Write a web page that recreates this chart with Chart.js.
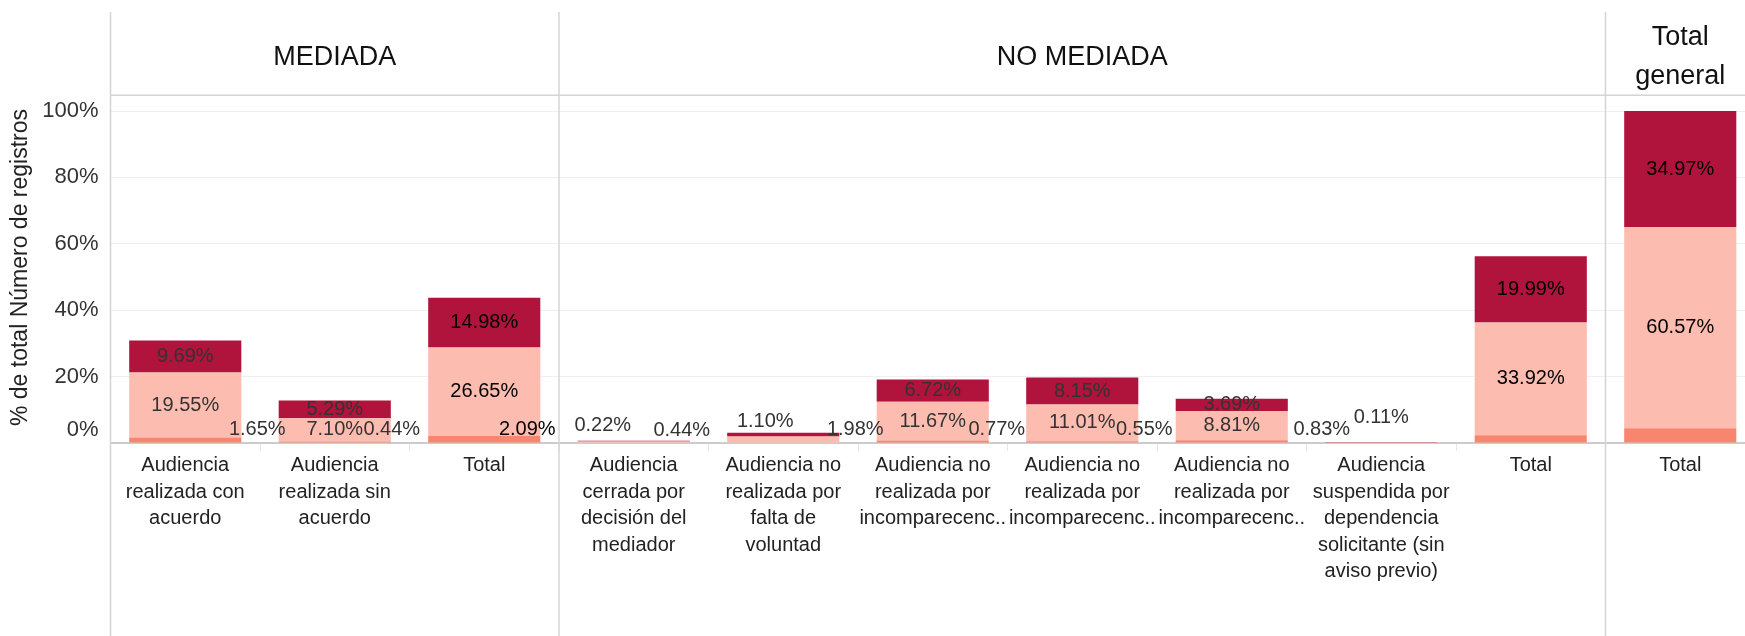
<!DOCTYPE html>
<html>
<head>
<meta charset="utf-8">
<script src="https://cdn.jsdelivr.net/npm/chart.js@4.4.1/dist/chart.umd.min.js"></script>
<style>
  html, body { margin: 0; padding: 0; background: #fff; overflow: hidden; }
  #wrap { width: 1755px; height: 636px; }
</style>
</head>
<body>
<div id="wrap"><canvas id="c" width="1755" height="636"></canvas></div>
<script>
// ---- data ----
const categories = [
  ['Audiencia', 'realizada con', 'acuerdo'],
  ['Audiencia', 'realizada sin', 'acuerdo'],
  ['Total'],
  ['Audiencia', 'cerrada por', 'decisión del', 'mediador'],
  ['Audiencia no', 'realizada por', 'falta de', 'voluntad'],
  ['Audiencia no', 'realizada por', 'incomparecenc..'],
  ['Audiencia no', 'realizada por', 'incomparecenc..'],
  ['Audiencia no', 'realizada por', 'incomparecenc..'],
  ['Audiencia', 'suspendida por', 'dependencia', 'solicitante (sin', 'aviso previo)'],
  ['Total'],
  ['Total']
];
const groupNames = [['MEDIADA'], ['NO MEDIADA'], ['Total', 'general']];
const groupSizes = [3, 7, 1];
const seriesBottom = [1.65, 0.44, 2.09, 0, 0, 0.77, 0.55, 0.83, 0.22, 2.37, 4.46];
const seriesMiddle = [19.55, 7.10, 26.65, 0.44, 1.98, 11.67, 11.01, 8.81, 0, 33.92, 60.57];
const seriesTop = [9.69, 5.29, 14.98, 0.22, 1.10, 6.72, 8.15, 3.69, 0.11, 19.99, 34.97];
const yTickValues = [0, 20, 40, 60, 80, 100];
const yAxisTitle = '% de total Número de registros';
const totalIndexes = [2, 9, 10];

// ---- styling ----
const FONT = "'Liberation Sans', Arial, sans-serif";
const colors = ['#F8866E', '#FDBCB0', '#B0133B'];
// label nudges (px) for labels Tableau moved to avoid collisions: key "dataset,index"
const labelNudge = {
  '0,0': [72, 0], '0,1': [57, 0], '0,2': [43, 0], '0,5': [64, 0], '0,6': [62, 0], '0,7': [90, 0],
  '1,3': [48, 1], '1,4': [72, 0],
  '2,3': [-31, -4], '2,4': [-18, -8], '2,8': [0, -12]
};
const hiddenLabels = ['0,8', '0,9', '0,10'];

const decorPlugin = {
  id: 'decor',
  afterDraw(chart) {
    const ctx = chart.ctx;
    const xs = chart.scales.x, ys = chart.scales.y;
    const area = chart.chartArea;
    ctx.save();
    // pane boundaries
    const bounds = [area.left];
    let acc = 0;
    groupSizes.forEach((n) => {
      acc += n;
      if (acc < categories.length) {
        bounds.push((xs.getPixelForValue(acc - 1) + xs.getPixelForValue(acc)) / 2);
      } else {
        bounds.push(area.right);
      }
    });
    ctx.strokeStyle = '#d4d4d4';
    ctx.lineWidth = 1.5;
    for (let i = 0; i < bounds.length - 1; i++) {
      ctx.beginPath();
      ctx.moveTo(bounds[i], 12);
      ctx.lineTo(bounds[i], chart.height);
      ctx.stroke();
    }
    // header divider
    ctx.beginPath();
    ctx.moveTo(area.left, 95.3);
    ctx.lineTo(area.right, 95.3);
    ctx.stroke();
    // header texts
    ctx.fillStyle = '#111';
    ctx.font = '27px ' + FONT;
    ctx.textAlign = 'center';
    ctx.textBaseline = 'middle';
    groupNames.forEach((lines, gi) => {
      const cx = (bounds[gi] + bounds[gi + 1]) / 2;
      if (lines.length === 1) {
        ctx.fillText(lines[0], cx, 57.5);
      } else {
        lines.forEach((t, li) => ctx.fillText(t, cx, 38 + li * 38.3));
      }
    });
    // y axis title
    ctx.save();
    ctx.translate(21, 267.5);
    ctx.rotate(-Math.PI / 2);
    ctx.font = '23px ' + FONT;
    ctx.fillStyle = '#222';
    ctx.fillText(yAxisTitle, 0, 0);
    ctx.restore();
    // 0% label lifted inside the pane
    ctx.font = '22px ' + FONT;
    ctx.fillStyle = '#333';
    ctx.textAlign = 'right';
    ctx.fillText(yTickValues[0] + '%', area.left - 12, ys.getPixelForValue(yTickValues[0]) - 13);
    ctx.restore();
  },
  afterDatasetsDraw(chart) {
    const ctx = chart.ctx;
    const area = chart.chartArea;
    ctx.save();
    ctx.font = '20px ' + FONT;
    ctx.textAlign = 'center';
    ctx.textBaseline = 'middle';
    chart.data.datasets.forEach((ds, di) => {
      const meta = chart.getDatasetMeta(di);
      meta.data.forEach((el, i) => {
        const v = ds.data[i];
        const key = di + ',' + i;
        if (!v || hiddenLabels.includes(key)) return;
        let x = el.x;
        let y = Math.min((el.y + el.base) / 2, area.bottom - 14);
        const n = labelNudge[key];
        if (n) { x += n[0]; y += n[1]; }
        ctx.fillStyle = totalIndexes.includes(i) ? '#000' : '#333';
        ctx.fillText(v.toFixed(2) + '%', x, y);
      });
    });
    ctx.restore();
  }
};

new Chart(document.getElementById('c'), {
  type: 'bar',
  data: {
    labels: categories,
    datasets: [
      { label: 'bottom', data: seriesBottom, backgroundColor: colors[0] },
      { label: 'middle', data: seriesMiddle, backgroundColor: colors[1] },
      { label: 'top', data: seriesTop, backgroundColor: colors[2] }
    ]
  },
  options: {
    responsive: false,
    animation: false,
    devicePixelRatio: 1,
    layout: { padding: { top: 111, left: 0, right: 0, bottom: 0 } },
    datasets: { bar: { barPercentage: 0.75, categoryPercentage: 1, borderWidth: 0 } },
    plugins: { legend: { display: false }, tooltip: { enabled: false } },
    scales: {
      x: {
        stacked: true,
        offset: true,
        grid: { display: true, drawOnChartArea: false, drawTicks: true, tickLength: 8, color: '#e6e6e6', offset: true },
        border: { display: true, color: '#cccccc', width: 2 },
        ticks: {
          autoSkip: false, maxRotation: 0, minRotation: 0, padding: 1,
          color: '#222',
          font: { family: FONT, size: 20, lineHeight: 1.333 }
        },
        afterFit(scale) { scale.height = 193; }
      },
      y: {
        stacked: true,
        min: 0, max: 100,
        afterBuildTicks(scale) { scale.ticks = yTickValues.map(v => ({ value: v })); },
        grid: {
          drawTicks: false,
          color: (c) => (c.tick && c.tick.value === 0) ? 'rgba(0,0,0,0)' : '#efefef',
          lineWidth: 1
        },
        border: { display: false },
        ticks: {
          padding: 12,
          color: '#333',
          font: { family: FONT, size: 22 },
          callback: (v) => v === 0 ? '' : v + '%'
        },
        afterFit(scale) { scale.width = 110.5; }
      }
    }
  },
  plugins: [decorPlugin]
});
</script>
</body>
</html>
